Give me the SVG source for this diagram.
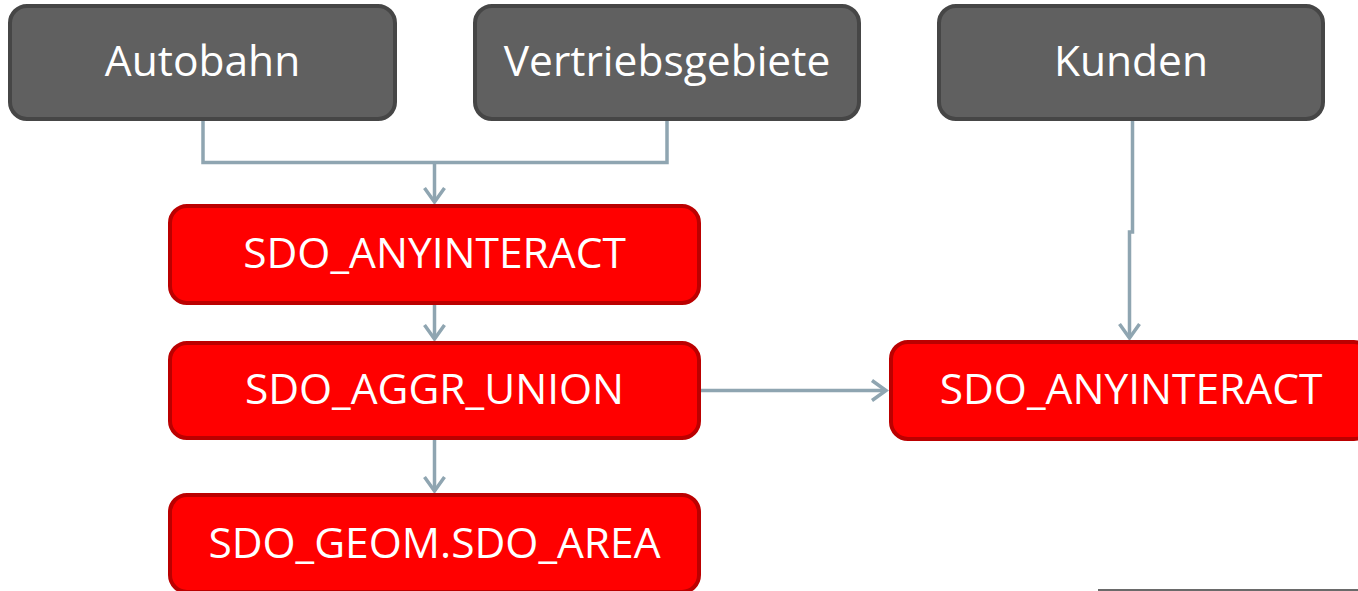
<svg xmlns="http://www.w3.org/2000/svg" width="1358" height="591" viewBox="0 0 1358 591">
  <style>
    .src rect { fill: #606060; stroke: #464646; stroke-width: 4; }
    .op rect { fill: #ff0000; stroke: #bb0000; stroke-width: 4; }
    .lbl { font-family: "Open Sans", "Liberation Sans", sans-serif; font-size: 42.5px; fill: #ffffff; text-anchor: middle; }
    .wire { fill: none; stroke: #8fa5b1; stroke-width: 3.5; }
  </style>
  <defs>
    <marker id="chev" markerUnits="userSpaceOnUse" viewBox="-18 -14 22 28" refX="0" refY="0" markerWidth="22" markerHeight="28" orient="auto">
      <path d="M-14,-10 L0,0 L-14,10" fill="none" stroke="#8fa5b1" stroke-width="3.5" stroke-linejoin="miter"/>
    </marker>
  </defs>
  <rect width="1358" height="591" fill="#ffffff"/>

  <!-- connectors -->
  <g id="connectors" class="wire">
    <path d="M203,121 V162.5 H667 V121"/>
    <path d="M434.5,162.5 V202" marker-end="url(#chev)"/>
    <path d="M434.5,305 V339" marker-end="url(#chev)"/>
    <path d="M434.5,440 V491" marker-end="url(#chev)"/>
    <path d="M701,390.5 H886" marker-end="url(#chev)"/>
    <path d="M1132.5,121 V232 H1129.5 V338" marker-end="url(#chev)"/>
  </g>

  <!-- source tables -->
  <g id="autobahn" class="src">
    <rect x="10" y="6" width="385" height="113" rx="17"/>
    <text class="lbl" x="202.5" y="76">Autobahn</text>
  </g>
  <g id="vertriebsgebiete" class="src">
    <rect x="475" y="6" width="384" height="113" rx="17"/>
    <text class="lbl" x="667" y="76">Vertriebsgebiete</text>
  </g>
  <g id="kunden" class="src">
    <rect x="939" y="6" width="384" height="113" rx="17"/>
    <text class="lbl" x="1131" y="76">Kunden</text>
  </g>

  <!-- spatial operators -->
  <g id="anyinteract-1" class="op">
    <rect x="170" y="206" width="529" height="97" rx="17"/>
    <text class="lbl" x="434.5" y="268">SDO_ANYINTERACT</text>
  </g>
  <g id="aggr-union" class="op">
    <rect x="170" y="343" width="529" height="95" rx="17"/>
    <text class="lbl" x="434.5" y="404">SDO_AGGR_UNION</text>
  </g>
  <g id="sdo-area" class="op">
    <rect x="170" y="495" width="529" height="97" rx="17"/>
    <text class="lbl" x="434.5" y="558">SDO_GEOM.SDO_AREA</text>
  </g>
  <g id="anyinteract-2" class="op">
    <rect x="891" y="342" width="480" height="97" rx="17"/>
    <text class="lbl" x="1131" y="404">SDO_ANYINTERACT</text>
  </g>

  <!-- rule at lower right -->
  <line x1="1098" y1="590" x2="1358" y2="590" stroke="#6a6a6a" stroke-width="2"/>
</svg>
